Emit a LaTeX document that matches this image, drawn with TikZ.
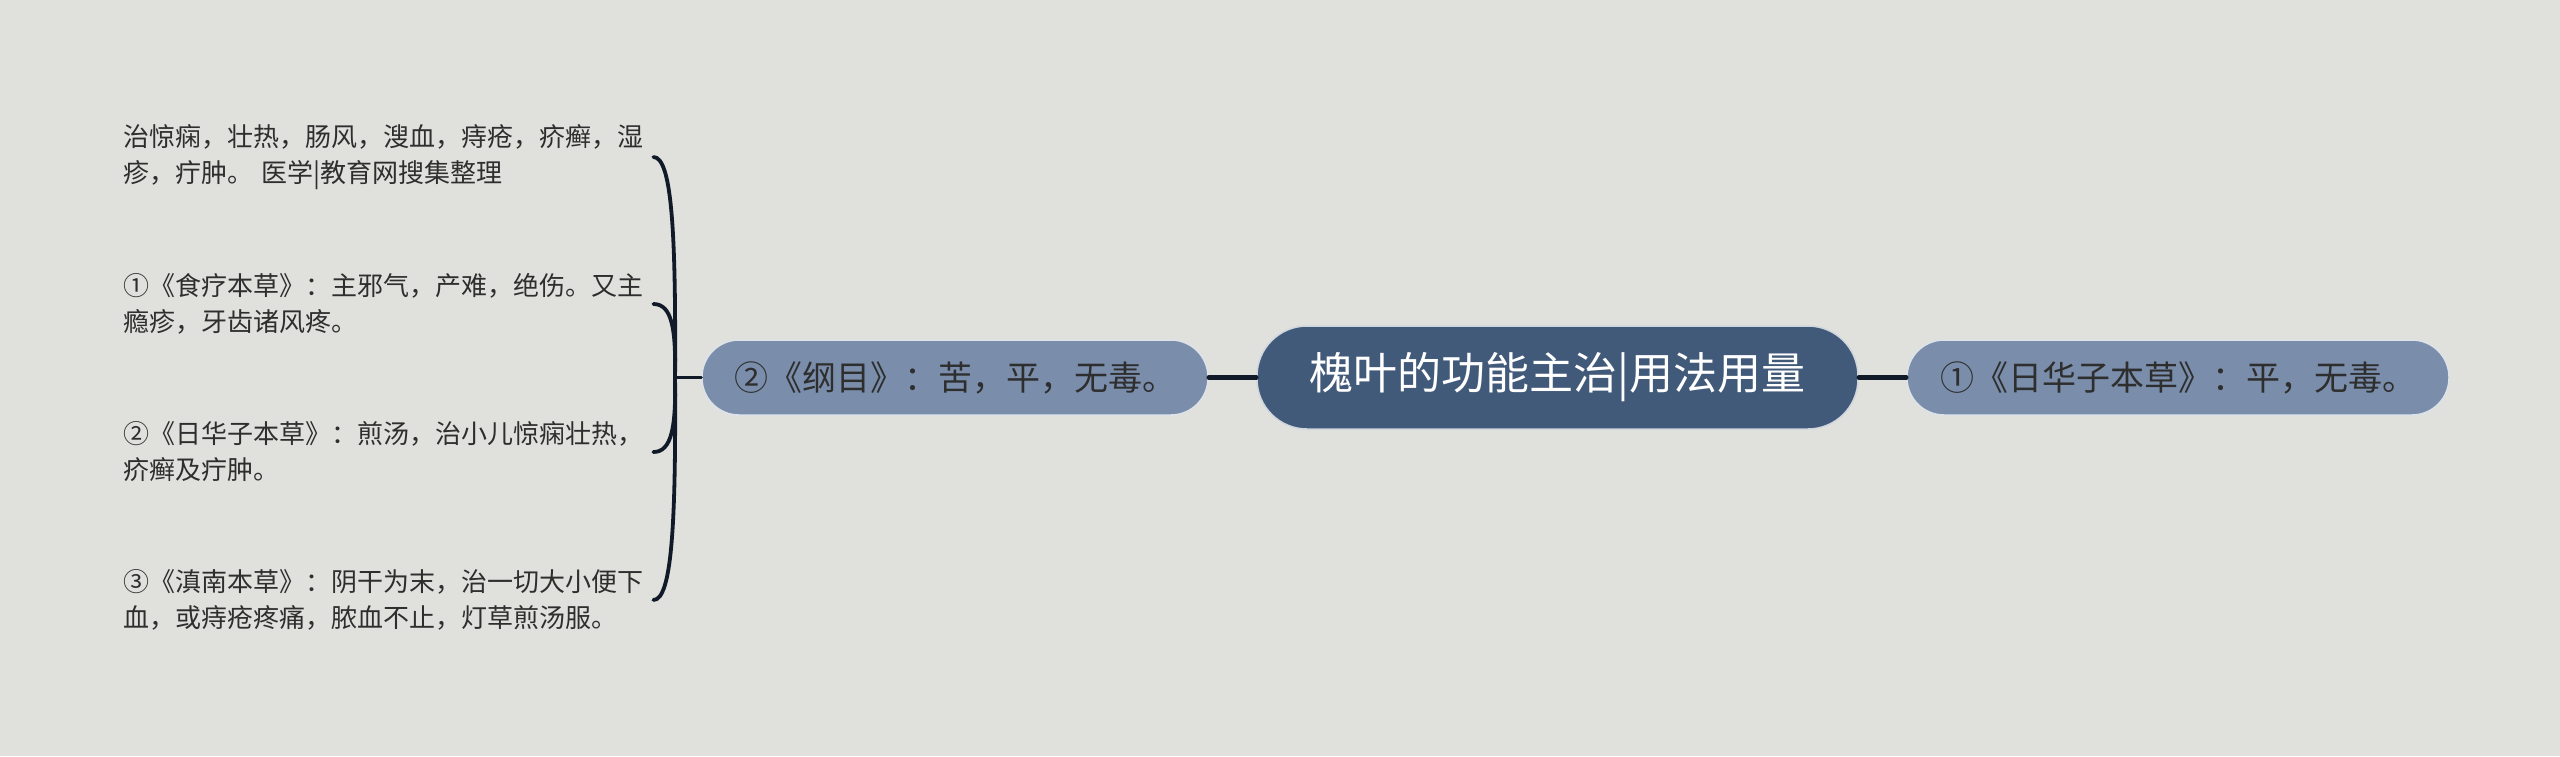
\documentclass[tikz,border=0pt]{standalone}
\usepackage{fontspec}
\setmainfont{Noto Sans CJK SC}
\usepackage{xcolor}
\usepackage{tikz}

\definecolor{bgGray}{HTML}{E0E1DC}
\definecolor{rootBlue}{HTML}{425A7A}
\definecolor{subBlue}{HTML}{7A8EAB}
\definecolor{lineNavy}{HTML}{111A29}
\definecolor{txtGray}{HTML}{2E2E2E}

\begin{document}
\begin{tikzpicture}[x=1pt,y=1pt,yscale=-1,xscale=1,
  rootnode/.style={fill=rootBlue, draw=white!75!rootBlue, line width=1.5pt, rounded corners=50pt, minimum width=601pt, minimum height=103pt, inner sep=0pt, text=white, font=\fontsize{44}{50}\selectfont},
  subnode/.style={fill=subBlue, draw=white!75!subBlue, line width=1.5pt, rounded corners=37pt, minimum height=75pt, inner sep=0pt, text=txtGray, font=\fontsize{34}{42}\selectfont},
  leafnode/.style={anchor=west, text width=530pt, align=left, inner sep=0pt, text=txtGray, font=\fontsize{26}{36}\selectfont},
  link/.style={draw=lineNavy, line width=3.8pt, line cap=round},
]
\useasboundingbox (0,0) rectangle (2560,756);
\fill[bgGray] (0,0) rectangle (2560,756);

% Text Node
\node[rootnode] (root) at (1557.5,377.5) {槐叶的功能主治|用法用量};
% Text Node
\node[subnode, minimum width=506pt] (gangmu) at (955,377.5) {②《纲目》：苦，平，无毒。};
% Text Node
\node[subnode, minimum width=542pt] (rihua) at (2178,377.5) {①《日华子本草》：平，无毒。};

% Text Node
\node[leafnode] (leafA) at (123,157) {治惊痫，壮热，肠风，溲血，痔疮，疥癣，湿\\疹，疔肿。 医学|教育网搜集整理};
% Text Node
\node[leafnode] (leafB) at (123,304) {①《食疗本草》：主邪气，产难，绝伤。又主\\瘾疹，牙齿诸风疼。};
% Text Node
\node[leafnode] (leafC) at (123,452) {②《日华子本草》：煎汤，治小儿惊痫壮热，\\疥癣及疔肿。};
% Text Node
\node[leafnode] (leafD) at (123,600) {③《滇南本草》：阴干为末，治一切大小便下\\血，或痔疮疼痛，脓血不止，灯草煎汤服。};

\coordinate (junc) at (675,377.5);

%Straight Lines
\draw[link, line width=4.5pt] (root.west) -- (gangmu.east);
\draw[link, line width=4.5pt] (root.east) -- (rihua.west);
\draw[link, line width=3.5pt] (gangmu.west) -- (junc);
%Curves
\draw[link] (junc) .. controls (676,234) and (672,157) .. (leafA.east);
\draw[link] (junc) .. controls (676,329) and (672,304) .. (leafB.east);
\draw[link] (junc) .. controls (676,426) and (672,452) .. (leafC.east);
\draw[link] (junc) .. controls (676,522) and (672,600) .. (leafD.east);
\end{tikzpicture}
\end{document}
